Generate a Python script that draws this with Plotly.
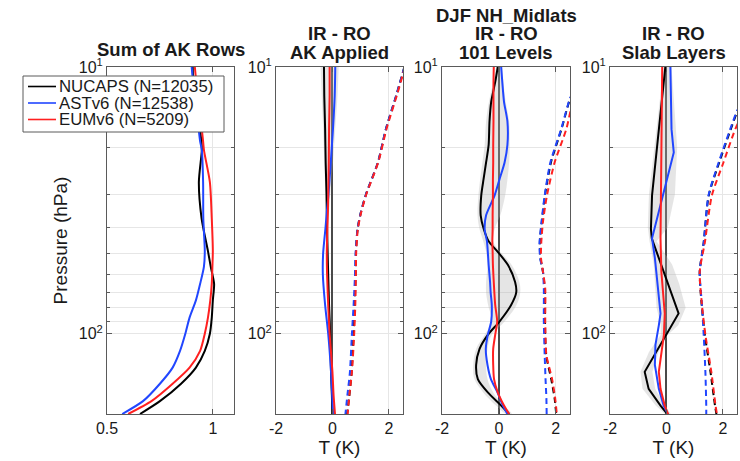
import numpy as np
import plotly.graph_objects as go

# ------------------------------------------------------------------ data
# Panel 1 : Sum of AK rows
P1_P = [10, 11, 15, 19, 20.5, 27, 37, 49, 56, 65, 75, 87, 100, 116, 134, 154, 179, 200]
P1_NUCAPS = [0.905, 0.907, 0.93, 0.946, 0.948, 0.934, 0.947, 0.977, 0.99, 1.006, 1.0, 0.995, 0.986, 0.962, 0.92, 0.85, 0.75, 0.656]
P1_AST = [0.900, 0.905, 0.925, 0.94, 0.948, 0.954, 0.955, 0.962, 0.958, 0.94, 0.92, 0.89, 0.87, 0.845, 0.81, 0.75, 0.67, 0.572]
P1_EUM = [0.915, 0.92, 0.94, 0.954, 0.958, 0.986, 0.995, 1.0, 0.998, 0.995, 0.988, 0.977, 0.962, 0.94, 0.89, 0.81, 0.71, 0.60]

# Panel 2 : IR - RO, AK applied (solid = mean, dashed = std)
P2_P = [10, 12.8, 17, 22.8, 30, 35, 40.5, 50, 60, 78, 100, 139, 170, 200]
P2_NUCAPS = [-0.30, -0.29, -0.26, -0.24, -0.21, -0.20, -0.19, -0.17, -0.15, -0.12, -0.08, -0.05, -0.02, 0.0]
P2_AST = [0.10, 0.08, 0.02, -0.06, -0.14, -0.20, -0.25, -0.33, -0.34, -0.26, -0.15, -0.05, -0.01, 0.02]
P2_EUM = [-0.10, -0.10, -0.12, -0.13, -0.15, -0.16, -0.18, -0.20, -0.19, -0.15, -0.10, 0.0, 0.04, 0.09]
P2_NUCAPS_SD = [2.55, 2.26, 1.90, 1.61, 1.19, 1.01, 0.89, 0.83, 0.82, 0.79, 0.75, 0.68, 0.60, 0.52]
P2_AST_SD = [2.55, 2.26, 1.90, 1.61, 1.19, 1.01, 0.89, 0.82, 0.80, 0.75, 0.69, 0.62, 0.53, 0.46]
P2_EUM_SD = [2.57, 2.28, 1.92, 1.62, 1.20, 1.02, 0.90, 0.84, 0.83, 0.81, 0.77, 0.69, 0.60, 0.54]
P2_SHADE_LO = [-0.42, -0.38, -0.33, -0.29, -0.25, -0.24, -0.23, -0.22, -0.20, -0.17, -0.12, -0.08, -0.05, -0.03]
P2_SHADE_HI = [0.22, 0.18, 0.10, 0.02, -0.08, -0.12, -0.15, -0.14, -0.13, -0.10, -0.06, -0.02, 0.02, 0.04]

# Panel 3 : IR - RO, 101 levels
P3_P = [10, 11.4, 13.5, 16, 19.6, 22.8, 26.4, 30.3, 36, 40.6, 45, 49.3, 55.3, 64, 70, 78, 90, 101, 114, 131, 148, 166, 186, 200]
P3_NUCAPS = [-0.04, -0.13, -0.27, -0.33, -0.36, -0.45, -0.54, -0.62, -0.64, -0.53, -0.36, -0.04, 0.32, 0.57, 0.61, 0.43, 0.02, -0.39, -0.68, -0.80, -0.74, -0.39, 0.08, 0.36]
P3_AST = [0.08, 0.12, 0.18, 0.30, 0.30, 0.20, 0.02, -0.15, -0.45, -0.50, -0.42, -0.39, -0.36, -0.31, -0.29, -0.25, -0.27, -0.39, -0.46, -0.40, -0.28, -0.05, 0.14, 0.30]
P3_EUM = [-0.18, -0.19, -0.19, -0.19, -0.20, -0.20, -0.21, -0.21, -0.22, -0.22, -0.23, -0.22, -0.21, -0.18, -0.16, -0.13, -0.06, -0.13, -0.20, -0.20, -0.17, -0.04, 0.18, 0.36]
P3_SHADE_LO = [-0.10, -0.20, -0.35, -0.45, -0.50, -0.58, -0.66, -0.72, -0.75, -0.68, -0.55, -0.45, -0.40, -0.45, -0.45, -0.38, -0.25, -0.50, -0.80, -0.90, -0.86, -0.55, -0.10, 0.25]
P3_SHADE_HI = [0.12, 0.16, 0.24, 0.36, 0.38, 0.36, 0.30, 0.22, 0.05, -0.15, -0.20, 0.05, 0.45, 0.72, 0.75, 0.62, 0.20, -0.25, -0.40, -0.45, -0.40, -0.20, 0.18, 0.45]
P3D_P = [12.5, 13.2, 17.1, 22.8, 30.3, 38, 45.5, 52, 58.6, 68, 90, 120, 148, 175, 203]
P3_NUCAPS_SD = [2.62, 2.50, 2.20, 1.83, 1.62, 1.51, 1.44, 1.46, 1.55, 1.61, 1.62, 1.66, 1.84, 1.96, 2.02]
P3_AST_SD = [2.60, 2.49, 2.19, 1.81, 1.61, 1.50, 1.43, 1.45, 1.55, 1.58, 1.58, 1.61, 1.64, 1.67, 1.68]
P3_EUM_SD = [2.75, 2.62, 2.37, 1.96, 1.69, 1.55, 1.49, 1.48, 1.55, 1.63, 1.63, 1.67, 1.87, 1.98, 2.04]

# Panel 4 : IR - RO, slab layers
P4_NUCAPS_P = [10, 30.3, 40.5, 43.9, 84, 139, 161, 186, 203]
P4_NUCAPS = [-0.04, -0.51, -0.55, -0.52, 0.43, -0.77, -0.63, -0.21, 0.08]
P4_AST_P = [10, 17.1, 20.9, 43.9, 52, 84, 93, 110, 131, 161, 186, 203]
P4_AST = [0.14, 0.18, 0.26, -0.51, -0.41, -0.21, -0.27, -0.39, -0.41, -0.27, -0.10, 0.08]
P4_EUM_P = [10, 43.9, 58.6, 84, 101, 139, 161, 186, 203]
P4_EUM = [-0.15, -0.21, -0.18, -0.06, -0.09, -0.27, -0.21, -0.06, 0.08]
P4S_P = [10, 15, 20, 30, 40, 45, 55, 65, 80, 93, 101, 117, 139, 161, 186, 200]
P4_SHADE_LO = [-0.10, -0.30, -0.42, -0.62, -0.66, -0.60, -0.45, -0.40, -0.35, -0.20, -0.20, -0.62, -0.92, -0.85, -0.38, -0.05]
P4_SHADE_HI = [0.18, 0.30, 0.38, 0.30, 0.05, -0.35, 0.20, 0.45, 0.68, 0.42, 0.05, -0.28, -0.50, -0.40, -0.05, 0.15]
P4D_P = [14.0, 14.6, 17.1, 22.8, 30.3, 45.5, 58.6, 78.3, 101, 139, 186, 203]
P4_NUCAPS_SD = [2.62, 2.52, 2.28, 1.87, 1.50, 1.32, 1.18, 1.25, 1.36, 1.56, 1.72, 1.78]
P4_AST_SD = [2.60, 2.50, 2.26, 1.85, 1.49, 1.32, 1.18, 1.26, 1.32, 1.38, 1.41, 1.41]
P4_EUM_SD = [2.85, 2.75, 2.44, 2.02, 1.61, 1.36, 1.18, 1.26, 1.38, 1.59, 1.74, 1.80]

SERIES_NAMES = ["NUCAPS (N=12035)", "ASTv6 (N=12538)", "EUMv6 (N=5209)"]
PANEL_TITLES = [["Sum of AK Rows"], ["IR - RO", "AK Applied"],
                ["DJF NH_Midlats", "IR - RO", "101 Levels"], ["IR - RO", "Slab Layers"]]
Y_TICKS = [10, 100]
Y_TICKTEXT = ["10<sup>1</sup>", "10<sup>2</sup>"]
Y_MINOR = [20, 30, 40, 50, 60, 70, 80, 90]

# ------------------------------------------------------------------ layout helpers
W, H = 740, 461
L, R, T, B = 107, 3, 67, 47
PW, PH = W - L - R, H - T - B


def fx(px):
    return (px - L) / PW


def fy(py):
    return 1 - (py - T) / PH


DOMAINS = [(107, 234), (276, 403), (442, 570), (610, 737)]
BLACK, BLUE, RED = "#000000", "#2146ff", "#ff2020"
COLORS = [BLACK, BLUE, RED]
SHADE = "rgba(175,175,175,0.33)"
FONT = "Liberation Sans, Arial, sans-serif"
TXT = "#1a1a1a"
AX = "#5a5a5a"
GRID = "#e6e6e6"

fig = go.Figure()


def ax(i):
    s = "" if i == 1 else str(i)
    return "x" + s, "y" + s


def line(panel, x, y, color, dash="solid", shape="spline"):
    xa, ya = ax(panel)
    fig.add_trace(go.Scatter(x=x, y=y, mode="lines", xaxis=xa, yaxis=ya,
                             line=dict(color=color, width=2, dash=dash, shape=shape,
                                       smoothing=0.7 if shape == "spline" else None),
                             showlegend=False, hoverinfo="skip"))


def shade(panel, p, lo, hi, shape="spline"):
    xa, ya = ax(panel)
    fig.add_trace(go.Scatter(x=list(lo) + list(hi)[::-1], y=list(p) + list(p)[::-1],
                             mode="lines", fill="toself", fillcolor=SHADE,
                             line=dict(width=0, shape=shape), xaxis=xa, yaxis=ya,
                             showlegend=False, hoverinfo="skip"))


DASH = "6px,4px"

# panel 1
for vals, c in zip([P1_NUCAPS, P1_AST, P1_EUM], COLORS):
    line(1, vals, P1_P, c)

# panel 2
shade(2, P2_P, P2_SHADE_LO, P2_SHADE_HI)
for vals, c in zip([P2_NUCAPS, P2_AST, P2_EUM], COLORS):
    line(2, vals, P2_P, c)
for vals, c in zip([P2_NUCAPS_SD, P2_AST_SD, P2_EUM_SD], COLORS):
    line(2, vals, P2_P, c, dash=DASH)

# panel 3
shade(3, P3_P, P3_SHADE_LO, P3_SHADE_HI)
for vals, c in zip([P3_NUCAPS, P3_AST, P3_EUM], COLORS):
    line(3, vals, P3_P, c)
for vals, c in zip([P3_NUCAPS_SD, P3_AST_SD, P3_EUM_SD], COLORS):
    line(3, vals, P3D_P, c, dash=DASH)

# panel 4
shade(4, P4S_P, P4_SHADE_LO, P4_SHADE_HI, shape="linear")
for vals, p, c in zip([P4_NUCAPS, P4_AST, P4_EUM], [P4_NUCAPS_P, P4_AST_P, P4_EUM_P], COLORS):
    line(4, vals, p, c, shape="linear")
for vals, c in zip([P4_NUCAPS_SD, P4_AST_SD, P4_EUM_SD], COLORS):
    line(4, vals, P4D_P, c, dash=DASH, shape="spline")

layout = dict(width=W, height=H, margin=dict(l=L, r=R, t=T, b=B, autoexpand=False),
              paper_bgcolor="white", plot_bgcolor="white",
              font=dict(family=FONT, color=TXT, size=16), showlegend=False)

for i, (a, b) in enumerate(DOMAINS, start=1):
    s = "" if i == 1 else str(i)
    xa = dict(domain=[fx(a), fx(b)], anchor="y" + s, showline=True, mirror="ticks",
              linecolor=AX, linewidth=1, ticks="inside", ticklen=5, tickcolor=AX,
              showgrid=True, gridcolor=GRID, gridwidth=1,
              tickfont=dict(size=16, family=FONT, color=TXT), automargin=False)
    if i == 1:
        xa.update(range=[0.5, 1.1], tickvals=[0.5, 1], ticktext=["0.5", "1"], zeroline=False)
    else:
        xa.update(range=[-2, 2.5], tickvals=[-2, 0, 2], ticktext=["-2", "0", "2"],
                  zeroline=True, zerolinecolor="#4a4a4a", zerolinewidth=1.5,
                  title=dict(text="T (K)", font=dict(size=19, family=FONT, color=TXT), standoff=2))
    ya = dict(anchor="x" + s, type="log", range=[np.log10(200), 1],
              tickvals=Y_TICKS, ticktext=Y_TICKTEXT, showline=True, mirror="ticks",
              linecolor=AX, linewidth=1, ticks="inside", ticklen=5, tickcolor=AX,
              showgrid=True, gridcolor=GRID, gridwidth=1, zeroline=False,
              tickfont=dict(size=16, family=FONT, color=TXT), automargin=False,
              minor=dict(tickvals=Y_MINOR, ticks="inside", ticklen=3, tickcolor=AX,
                         showgrid=True, gridcolor=GRID, gridwidth=1))
    if i == 1:
        ya.update(title=dict(text="Pressure (hPa)", font=dict(size=19, family=FONT, color=TXT), standoff=6))
    layout["xaxis" + s] = xa
    layout["yaxis" + s] = ya

annotations = []
TITLE_Y = {1: [49.5], 2: [33, 52.5], 3: [15, 33, 52.5]}
for (a, b), lines in zip(DOMAINS, PANEL_TITLES):
    ys = TITLE_Y[len(lines)]
    for txt, ypx in zip(lines, ys):
        annotations.append(dict(text="<b>" + txt + "</b>", xref="paper", yref="paper",
                                x=fx((a + b) / 2), y=fy(ypx), xanchor="center", yanchor="middle",
                                showarrow=False, font=dict(size=18.5, family=FONT, color=TXT)))

# legend (drawn manually to match the compact boxed legend)
shapes = [dict(type="rect", xref="paper", yref="paper", x0=fx(23), x1=fx(224), y0=fy(132), y1=fy(76),
               fillcolor="white", line=dict(color=AX, width=1), layer="above")]
for k, (name, c) in enumerate(zip(SERIES_NAMES, COLORS)):
    ypx = 86.5 + k * 16.5
    shapes.append(dict(type="line", xref="paper", yref="paper", x0=fx(28), x1=fx(56), y0=fy(ypx), y1=fy(ypx),
                       line=dict(color=c, width=1.6), layer="above"))
    annotations.append(dict(text=name, xref="paper", yref="paper", x=fx(57), y=fy(ypx),
                            xanchor="left", yanchor="middle", showarrow=False,
                            font=dict(size=16.8, family=FONT, color=TXT)))

layout["annotations"] = annotations
layout["shapes"] = shapes
fig.update_layout(**layout)
fig.write_html("out.html", config={"displayModeBar": False},
               post_script="document.body.style.margin='0';")
